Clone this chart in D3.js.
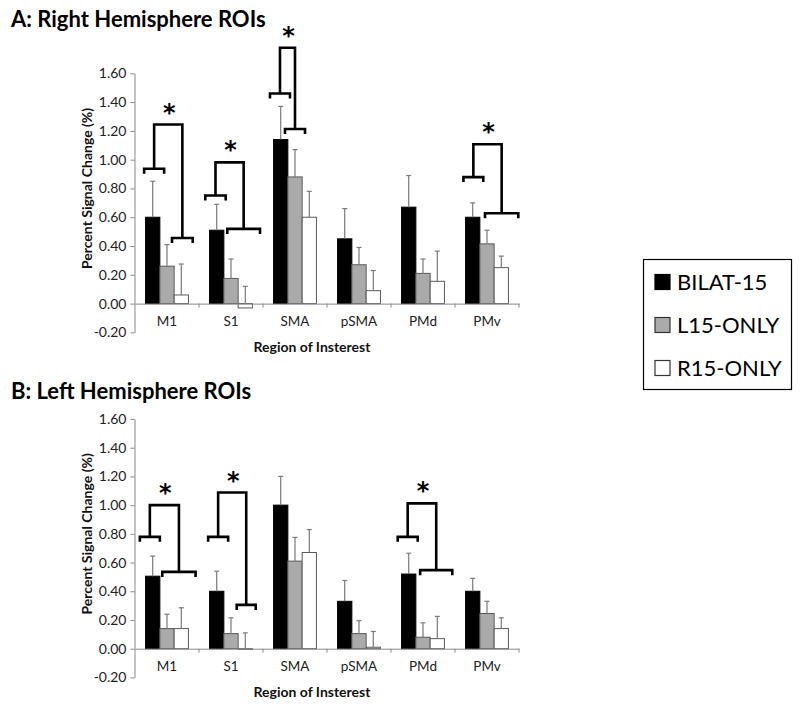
<!DOCTYPE html>
<html><head><meta charset="utf-8">
<script src="https://cdn.jsdelivr.net/npm/d3@7"></script>
<style>body{margin:0;background:#fff;} svg{display:block;font-family:Lato, "Open Sans", sans-serif;}</style>
</head><body>
<svg id="chart" width="800" height="710"></svg>
<script>
const categories = ["M1","S1","SMA","pSMA","PMd","PMv"];
const groups = ["BILAT-15","L15-ONLY","R15-ONLY"];
const yTicks = [-0.2,0,0.2,0.4,0.6,0.8,1.0,1.2,1.4,1.6];
// Panel A: Right hemisphere (mean, error-bar top)
const rightBilat    = [0.60, 0.51, 1.14, 0.45, 0.67, 0.60];
const rightBilatErr = [0.85, 0.69, 1.37, 0.66, 0.89, 0.70];
const rightL15      = [0.26, 0.175, 0.88, 0.27, 0.21, 0.415];
const rightL15Err   = [0.41, 0.31, 1.07, 0.39, 0.31, 0.51];
const rightR15      = [0.06, -0.03, 0.60, 0.09, 0.155, 0.25];
const rightR15Err   = [0.275, 0.12, 0.78, 0.23, 0.365, 0.33];
// Panel B: Left hemisphere
const leftBilat     = [0.505, 0.40, 1.00, 0.33, 0.52, 0.40];
const leftBilatErr  = [0.645, 0.54, 1.20, 0.475, 0.665, 0.49];
const leftL15       = [0.14, 0.105, 0.61, 0.105, 0.08, 0.245];
const leftL15Err    = [0.24, 0.215, 0.775, 0.195, 0.18, 0.33];
const leftR15       = [0.14, -0.005, 0.67, 0.01, 0.07, 0.14];
const leftR15Err    = [0.285, 0.11, 0.83, 0.12, 0.225, 0.215];
// significance brackets: category, left/right bracket spans (in bar widths from group centre), levels in data units
const rightSig = [
  {cat:"M1",  L:[-1.6,-0.2],  Ly:0.937, R:[0.35,1.8],  Ry:0.456, top:1.244},
  {cat:"S1",  L:[-1.8,-0.37], Ly:0.751, R:[-0.26,2.03],Ry:0.519, top:0.981},
  {cat:"SMA", L:[-1.75,-0.35],Ly:1.46,  R:[-0.7,0.7],  Ry:1.213, top:1.778},
  {cat:"PMv", L:[-1.65,-0.26],Ly:0.879, R:[-0.14,2.19],Ry:0.628, top:1.107}
];
const leftSig = [
  {cat:"M1",  L:[-1.9,-0.5],  Ly:0.779, R:[-0.33,2.0], Ry:0.535, top:1.0},
  {cat:"S1",  L:[-1.6,-0.2],  Ly:0.779, R:[0.4,1.73],  Ry:0.305, top:1.088},
  {cat:"PMd", L:[-1.77,-0.37],Ly:0.779, R:[-0.2,2.05], Ry:0.547, top:1.012}
];

const colors = ["#000000","#aaaaaa","#ffffff"];
const strokes = ["#000000","#5a5a5a","#5a5a5a"];
const svg = d3.select("#chart");
const fmt = v => d3.format(".2f")(v).replace("\u2212", "-");

function panel(title, titleY, yTop, yBottom, series, errs, sig) {
  const g = svg.append("g");
  const x = d3.scaleBand().domain(categories).range([135, 519]).paddingInner(0).paddingOuter(0);
  const y = d3.scaleLinear().domain([-0.2, 1.6]).range([yBottom, yTop]);
  const bw = x.bandwidth() * 0.67 / 3;
  const xs = d3.scaleBand().domain(groups).range([-1.5*bw, 1.5*bw]);

  g.append("text").attr("x", 11).attr("y", titleY).attr("font-size", 22).attr("font-weight", "bold")
    .attr("fill", "#000").text(title);

  // y axis
  const yAx = d3.axisLeft(y).tickValues(yTicks).tickFormat(fmt).tickSize(4).tickSizeOuter(0);
  const ya = g.append("g").attr("transform", "translate(134.5,0)").call(yAx);
  ya.select(".domain").attr("stroke", "#888");
  ya.selectAll(".tick line").attr("stroke", "#888");
  ya.selectAll(".tick text").attr("font-size", 14).attr("fill", "#222").attr("font-family", "Lato, sans-serif").attr("x", -8);

  // bars
  groups.forEach((grp, gi) => {
    g.append("g").selectAll("rect").data(categories).join("rect")
      .attr("x", c => x(c) + x.bandwidth()/2 + xs(grp))
      .attr("y", (c,i) => y(Math.max(0, series[gi][i])))
      .attr("width", xs.bandwidth())
      .attr("height", (c,i) => Math.abs(y(series[gi][i]) - y(0)))
      .attr("fill", colors[gi]).attr("stroke", strokes[gi]).attr("stroke-width", 1);
  });
  // error bars
  groups.forEach((grp, gi) => {
    const eg = g.append("g").attr("stroke", "#7a7a7a").attr("stroke-width", 1.2);
    categories.forEach((c, i) => {
      const cx = x(c) + x.bandwidth()/2 + xs(grp) + xs.bandwidth()/2;
      const base = series[gi][i];
      eg.append("line").attr("x1", cx).attr("x2", cx).attr("y1", y(Math.max(base,0))).attr("y2", y(errs[gi][i]));
      eg.append("line").attr("x1", cx-2.5).attr("x2", cx+2.5).attr("y1", y(errs[gi][i])).attr("y2", y(errs[gi][i]));
    });
  });

  // x axis at 0
  const xAx = d3.axisBottom(x).tickSize(0).tickSizeOuter(0);
  const xa = g.append("g").attr("transform", `translate(0,${y(0)})`).call(xAx);
  xa.select(".domain").attr("stroke", "#888");
  xa.selectAll(".tick text").attr("font-size", 13.5).attr("fill", "#222").attr("font-family", "Lato, sans-serif").attr("dy", "1.4em");
  const edges = categories.map(c => x(c) + x.bandwidth());
  xa.selectAll(".edge").data(edges).join("line").attr("class","edge")
    .attr("x1", d => d).attr("x2", d => d).attr("y1", 0).attr("y2", 4).attr("stroke", "#888");

  // axis titles
  g.append("text").attr("transform", `translate(92,${y(0.8)}) rotate(-90)`).attr("text-anchor", "middle")
    .attr("font-size", 14).attr("font-weight", "bold").attr("fill", "#111").text("Percent Signal Change (%)");
  g.append("text").attr("x", 312).attr("y", yBottom + 20).attr("text-anchor", "middle")
    .attr("font-size", 14).attr("font-weight", "bold").attr("fill", "#111").text("Region of Insterest");

  // significance brackets
  const sg = g.append("g").attr("fill", "none").attr("stroke", "#000").attr("stroke-width", 2.6).attr("stroke-linejoin", "miter");
  sig.forEach(s => {
    const cx = x(s.cat) + x.bandwidth()/2;
    const l0 = cx + s.L[0]*bw, l1 = cx + s.L[1]*bw, r0 = cx + s.R[0]*bw, r1 = cx + s.R[1]*bw;
    const lm = (l0+l1)/2, rm = (r0+r1)/2;
    const t = 5;
    sg.append("path").attr("d", `M${l0},${y(s.Ly)+t}V${y(s.Ly)}H${l1}V${y(s.Ly)+t}`);
    sg.append("path").attr("d", `M${r0},${y(s.Ry)+t}V${y(s.Ry)}H${r1}V${y(s.Ry)+t}`);
    sg.append("path").attr("d", `M${lm},${y(s.Ly)}V${y(s.top)}H${rm}V${y(s.Ry)}`);
    g.append("text").attr("x", (lm+rm)/2 + 1).attr("y", y(s.top) - 4).attr("text-anchor", "middle")
      .attr("font-size", 24).attr("font-weight", "bold").attr("font-family", "DejaVu Sans, sans-serif").text("*");
  });
}

panel("A: Right Hemisphere ROIs", 27, 73.3, 332.4,
  [rightBilat, rightL15, rightR15], [rightBilatErr, rightL15Err, rightR15Err], rightSig);
panel("B: Left Hemisphere ROIs", 399, 419, 677.4,
  [leftBilat, leftL15, leftR15], [leftBilatErr, leftL15Err, leftR15Err], leftSig);

// legend
const lg = svg.append("g");
lg.append("rect").attr("x", 643.5).attr("y", 259.5).attr("width", 148).attr("height", 130)
  .attr("fill", "#fff").attr("stroke", "#000").attr("stroke-width", 1.2);
groups.forEach((grp, gi) => {
  const cy = 282 + gi*43;
  lg.append("rect").attr("x", 655).attr("y", cy - 7.5).attr("width", 15).attr("height", 15)
    .attr("fill", colors[gi]).attr("stroke", gi === 0 ? "#000" : "#333").attr("stroke-width", 1.2);
  lg.append("text").attr("x", 677).attr("y", cy + 8).attr("font-size", 22).attr("fill", "#000").text(grp);
});
</script>
</body></html>
